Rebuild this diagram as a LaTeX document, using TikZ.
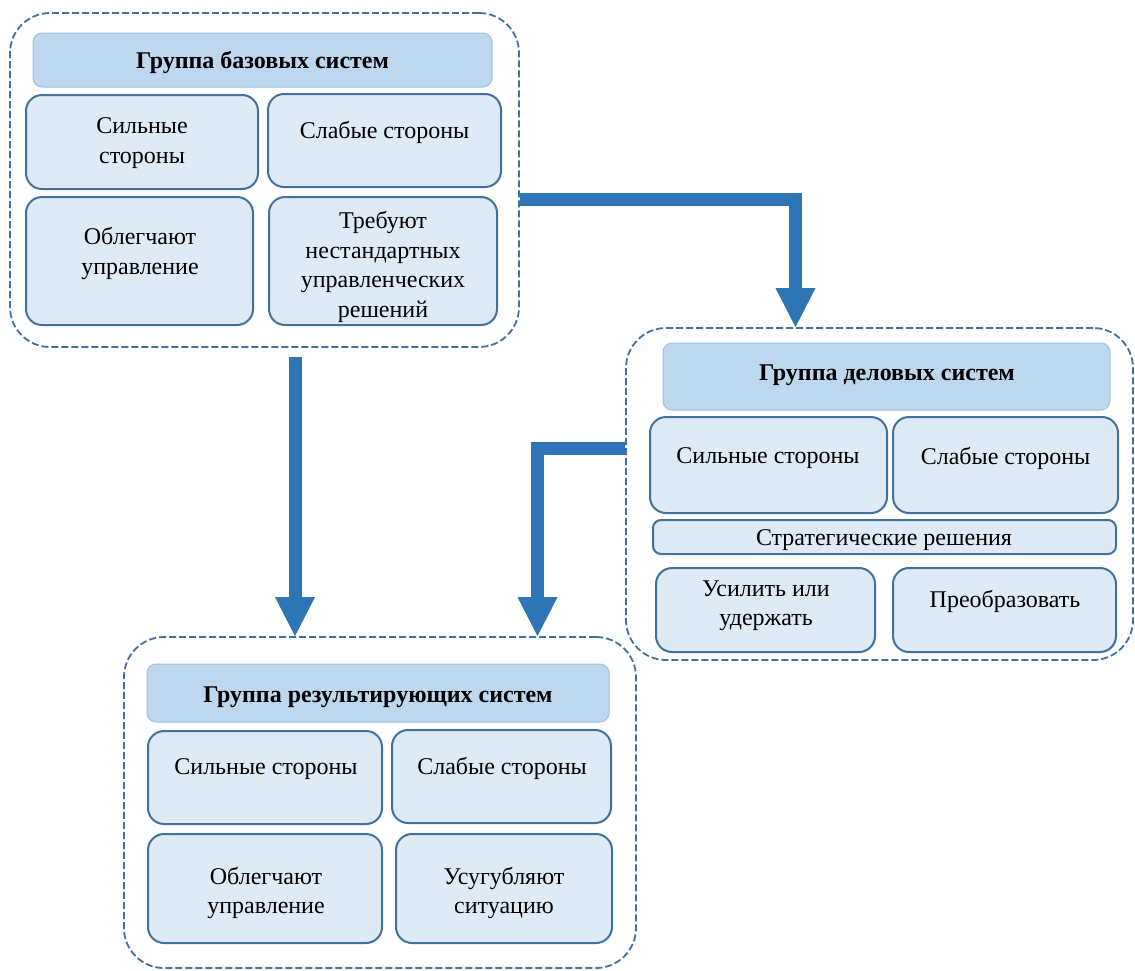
\documentclass[tikz,border=0pt]{standalone}
\usepackage{fontspec}
\setmainfont{Liberation Serif}
\usetikzlibrary{arrows.meta}
\definecolor{dashc}{HTML}{41719C}
\definecolor{hdrfill}{HTML}{BDD7EE}
\definecolor{hdrdraw}{HTML}{9DC3E6}
\definecolor{cellfill}{HTML}{DEEAF6}
\definecolor{celldraw}{HTML}{41719C}
\definecolor{arrowc}{HTML}{2E75B6}
\newcommand\mybox[6]{\node[#1, minimum width={#4-#2}, minimum height={#5-#3}] (#6) at ({(#2+#4)/2},{(#3+#5)/2}) {};}
\begin{document}
\begin{tikzpicture}[x=1pt,y=-1pt,
  group/.style={draw=dashc, fill=white, line width=1.8pt, dash pattern=on 7pt off 3pt, rounded corners=40pt, inner sep=0pt, rectangle},
  hdr/.style={draw=hdrdraw, fill=hdrfill, line width=1pt, rounded corners=9pt, inner sep=0pt, rectangle},
  cell/.style={draw=celldraw, fill=cellfill, line width=2pt, rounded corners=16pt, inner sep=0pt, rectangle},
  bar/.style={cell, rounded corners=8pt},
  txt/.style={align=center, inner sep=0pt, yshift=-2.5pt, font=\fontsize{24}{29.5}\selectfont},
  htxt/.style={txt, font=\fontsize{24}{29.5}\selectfont\bfseries},
  bigarrow/.style={draw=arrowc, line width=13pt, line join=miter, -{Triangle[width=40pt,length=39pt,line width=0pt]}}]
\fill[white] (0,0) rectangle (1135,970);
\useasboundingbox (0,0) rectangle (1135,970);
% group 1
\mybox{group}{10}{13}{519}{347}{g1}
\mybox{hdr}{33}{33}{492}{87}{h1}
\mybox{cell}{26}{95}{258}{189}{c11}
\mybox{cell}{268}{94}{501}{187}{c12}
\mybox{cell}{26}{197}{253}{325}{c13}
\mybox{cell}{269}{197}{497}{325}{c14}
\node[htxt] (t10) at (262.5,60) {Группа базовых систем};
\node[txt] (t11) at (142,140.5) {Сильные\\стороны};
\node[txt] (t12) at (384.5,130) {Слабые стороны};
\node[txt] (t13) at (140,251) {Облегчают\\управление};
\node[txt] (t14) at (383,264.5) {Требуют\\нестандартных\\управленческих\\решений};
% group 2
\mybox{group}{626}{328}{1133}{660}{g2}
\mybox{hdr}{663}{343}{1110}{410}{h2}
\mybox{cell}{650}{417}{887}{513}{c21}
\mybox{cell}{893}{417}{1118}{513}{c22}
\mybox{bar}{653}{520}{1116}{554}{c23}
\mybox{cell}{656}{568}{875}{652}{c24}
\mybox{cell}{893}{568}{1116}{652}{c25}
\node[htxt] (t20) at (887,373) {Группа деловых систем};
\node[txt] (t21) at (768,456) {Сильные стороны};
\node[txt] (t22) at (1005.5,456) {Слабые стороны};
\node[txt] (t23) at (884,538) {Стратегические решения};
\node[txt] (t24) at (766,603) {Усилить или\\удержать};
\node[txt] (t25) at (1005,599) {Преобразовать};
% group 3
\mybox{group}{124}{637}{636}{968}{g3}
\mybox{hdr}{147}{664}{609}{722}{h3}
\mybox{cell}{148}{731}{382}{824}{c31}
\mybox{cell}{392}{730}{611}{823}{c32}
\mybox{cell}{148}{834}{382}{943}{c33}
\mybox{cell}{396}{834}{612}{943}{c34}
\node[htxt] (t30) at (378,695) {Группа результирующих систем};
\node[txt] (t31) at (266,767) {Сильные стороны};
\node[txt] (t32) at (502,766) {Слабые стороны};
\node[txt] (t33) at (266,890.5) {Облегчают\\управление};
\node[txt] (t34) at (504,890.5) {Усугубляют\\ситуацию};
% arrows
\coordinate (a1) at (795.5,199.5);
\draw[bigarrow] (g1.east |- a1) -| (a1 |- g2.north);
\coordinate (b1) at (295,357);
\draw[bigarrow] (b1) -- (b1 |- g3.north);
\coordinate (cc1) at (537.5,448.5);
\draw[bigarrow] (g2.west |- cc1) -| (cc1 |- g3.north);
\end{tikzpicture}
\end{document}
